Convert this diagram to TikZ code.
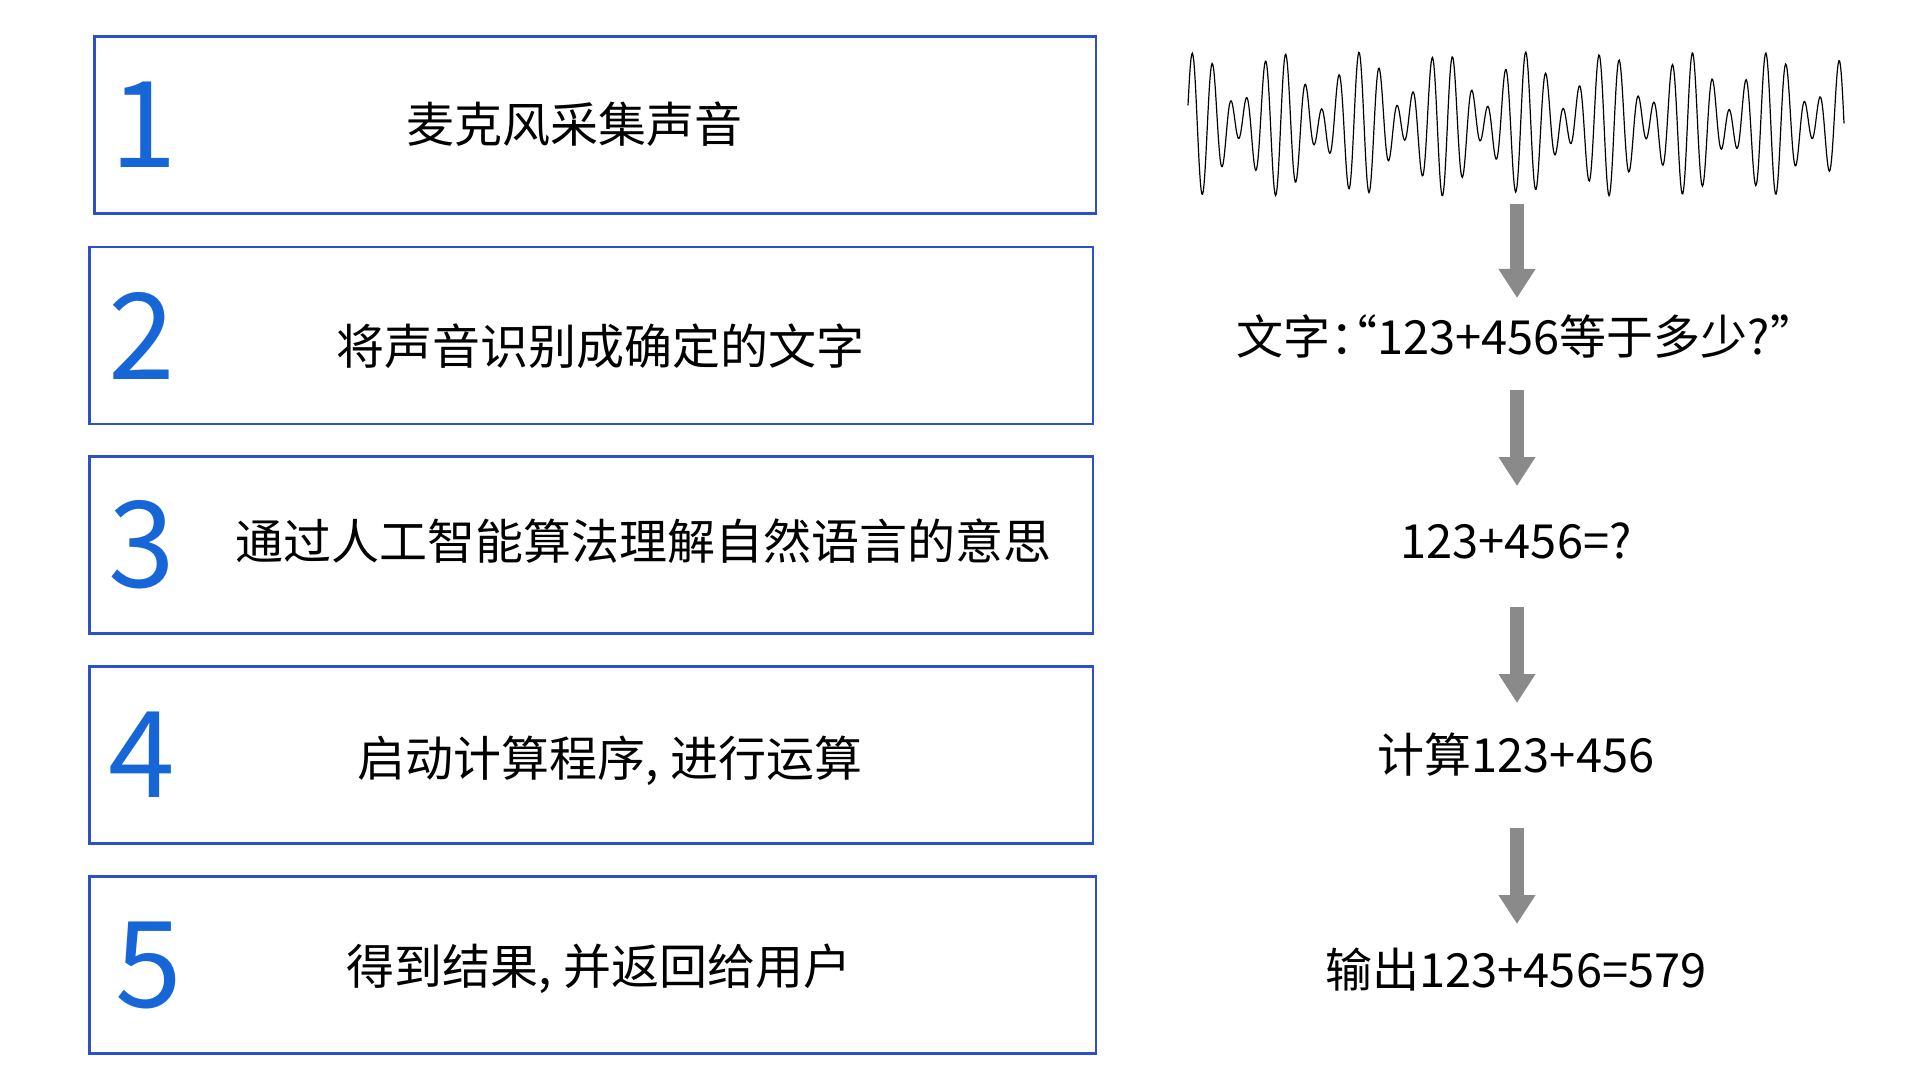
\documentclass[tikz,border=0pt]{standalone}
\usepackage{fontspec}
\setmainfont{Noto Sans CJK SC}
\newfontfamily\halfpunct[RawFeature=+halt]{Noto Sans CJK SC}
\usetikzlibrary{arrows.meta}
\definecolor{boxblue}{HTML}{2B50C8}
\definecolor{numblue}{HTML}{1766D8}
\definecolor{arrgray}{HTML}{8A8A8A}
\tikzset{
  stepbox/.style={draw=boxblue, line width=1.2pt, minimum height=88.5pt, inner sep=0pt, outer sep=0pt},
  num/.style={text=numblue, font=\fontsize{60}{60}\selectfont, inner sep=0pt},
  lbl/.style={text=black, font=\fontsize{24}{24}\selectfont, inner sep=0pt},
  rlbl/.style={text=black, font=\fontsize{23.5}{23.5}\selectfont, inner sep=0pt},
  arr/.style={draw=arrgray, line width=7pt, -{Triangle[width=17.5pt,length=14.5pt]}}
}
\begin{document}
\begin{tikzpicture}[x=0.5pt,y=-0.5pt]
\useasboundingbox (0,0) rectangle (1920,1080);
% boxes
\node[stepbox, minimum width=500.75pt] (b1) at (595.3,125.2) {};
\node[stepbox, minimum width=501.7pt] (b2) at (591.3,335.5) {};
\node[stepbox, minimum width=501.7pt] (b3) at (591.3,545) {};
\node[stepbox, minimum width=501.7pt] (b4) at (591.3,755) {};
\node[stepbox, minimum width=503.2pt] (b5) at (592.8,965) {};
% numbers
\node[num] (n1) at (144,125) {1};
\node[num] (n2) at (142,335.5) {2};
\node[num] (n3) at (142,545) {3};
\node[num] (n4) at (142,755) {4};
\node[num] (n5) at (149,965) {5};
% step texts
\node[lbl] (s1) at (574,124) {麦克风采集声音};
\node[lbl] (s2) at (600,346) {将声音识别成确定的文字};
\node[lbl] (s3) at (643,541) {通过人工智能算法理解自然语言的意思};
\node[lbl] (s4) at (610,761) {启动计算程序, 进行运算};
\node[lbl] (s5) at (599,969) {得到结果, 并返回给用户};
% waveform
\draw[black, line width=0.6pt] plot[domain=0:656, samples=900]
  ({1188+\x}, {124 - 72*(0.6*sin(360*(\x/18.5))+0.4*sin(360*(\x/23.9)+40))});
% right texts
\node[rlbl] (r1) at (1515,337) {文字{\halfpunct：“}123+456等于多少?{\halfpunct ”}};
\node[rlbl] (r2) at (1516,541) {123+456=?};
\node[rlbl] (r3) at (1516,755) {计算123+456};
\node[rlbl] (r4) at (1516,970) {输出123+456=579};
% arrows
\coordinate (a1s) at (1517,204); \coordinate (a1e) at (1517,298);
\coordinate (a2s) at (1517,390); \coordinate (a2e) at (1517,486);
\coordinate (a3s) at (1517,607); \coordinate (a3e) at (1517,703);
\coordinate (a4s) at (1517,828); \coordinate (a4e) at (1517,924);
\draw[arr] (a1s) -- (a1e);
\draw[arr] (a2s) -- (a2e);
\draw[arr] (a3s) -- (a3e);
\draw[arr] (a4s) -- (a4e);
\end{tikzpicture}
\end{document}
